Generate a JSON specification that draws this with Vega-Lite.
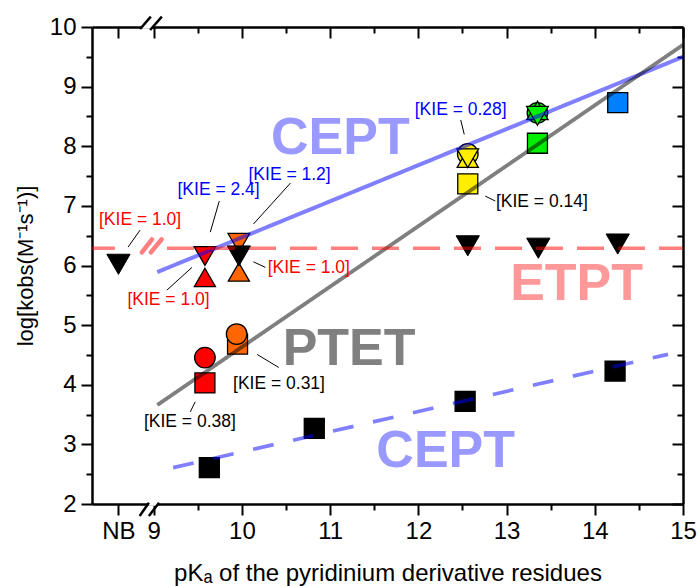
{
  "$schema": "https://vega.github.io/schema/vega-lite/v6.json",
  "width": 591,
  "height": 477,
  "autosize": "none",
  "padding": {"left": 92, "top": 27, "right": 14, "bottom": 82},
  "background": "white",
  "config": {
    "view": {"stroke": null},
    "font": "Arial, Liberation Sans, sans-serif",
    "axis": {
      "grid": false,
      "domainColor": "black",
      "domainWidth": 2.5,
      "tickColor": "black",
      "tickWidth": 2,
      "labelColor": "black",
      "labelFont": "Arial, Liberation Sans, sans-serif",
      "labelFontSize": 24,
      "titleFont": "Arial, Liberation Sans, sans-serif",
      "titleColor": "black",
      "titleFontSize": 24,
      "titleFontWeight": "normal",
      "labelOverlap": false,
      "labelFlush": false
    }
  },
  "datasets": {
    "points": [
      {"compound": "R0", "marker": "sq", "x": 9.63, "y": 2.61},
      {"compound": "R0", "marker": "sq", "x": 10.82, "y": 3.27},
      {"compound": "R0", "marker": "sq", "x": 12.53, "y": 3.72},
      {"compound": "R0", "marker": "sq", "x": 14.23, "y": 4.23},
      {"compound": "R1", "marker": "sq", "x": 9.58, "y": 4.03},
      {"compound": "R2", "marker": "sq", "x": 9.95, "y": 4.68},
      {"compound": "R3", "marker": "sq", "x": 12.56, "y": 7.37},
      {"compound": "R4", "marker": "sq", "x": 13.35, "y": 8.05},
      {"compound": "R5", "marker": "sq", "x": 14.26, "y": 8.73},
      {"compound": "R1", "marker": "ci", "x": 9.58, "y": 4.455},
      {"compound": "R2", "marker": "ci", "x": 9.94, "y": 4.85},
      {"compound": "R3", "marker": "ci", "x": 12.56, "y": 7.87},
      {"compound": "R4", "marker": "ci", "x": 13.35, "y": 8.56},
      {"compound": "R1", "marker": "up", "x": 9.58, "y": 5.80},
      {"compound": "R2", "marker": "up", "x": 9.965, "y": 5.89},
      {"compound": "R3", "marker": "up", "x": 12.56, "y": 7.80},
      {"compound": "R4", "marker": "up", "x": 13.35, "y": 8.60},
      {"compound": "R1", "marker": "dn", "x": 9.58, "y": 6.16},
      {"compound": "R2", "marker": "dn", "x": 9.965, "y": 6.38},
      {"compound": "R3", "marker": "dn", "x": 12.56, "y": 7.80},
      {"compound": "R4", "marker": "dn", "x": 13.35, "y": 8.51}
    ],
    "etpt": [
      {"x": 8.6, "y": 6.02},
      {"x": 9.965, "y": 6.16},
      {"x": 12.56, "y": 6.33},
      {"x": 13.36, "y": 6.29},
      {"x": 14.26, "y": 6.36}
    ],
    "fits": [
      {"fit": "CEPT", "seg": 1, "x": 9.04, "y": 5.89},
      {"fit": "CEPT", "seg": 1, "x": 15, "y": 9.50},
      {"fit": "PTET", "seg": 1, "x": 9.04, "y": 3.66},
      {"fit": "PTET", "seg": 1, "x": 15, "y": 9.70},
      {"fit": "CEPT ref", "seg": 1, "x": 9.22, "y": 2.61},
      {"fit": "CEPT ref", "seg": 1, "x": 14.83, "y": 4.51},
      {"fit": "ETPT", "seg": 1, "x": 8.3, "y": 6.29},
      {"fit": "ETPT", "seg": 1, "x": 8.56, "y": 6.29},
      {"fit": "ETPT", "seg": 2, "x": 9.15, "y": 6.29},
      {"fit": "ETPT", "seg": 2, "x": 15, "y": 6.29}
    ],
    "etptBreak": [
      {"x": 8.865, "y": 6.22, "x2": 8.98, "y2": 6.44},
      {"x": 8.967, "y": 6.22, "x2": 9.09, "y2": 6.44}
    ],
    "axisGap": [
      {"x": 8.94, "x2": 9.04, "y": 1.97, "y2": 2.03},
      {"x": 8.87, "x2": 8.98, "y": 9.97, "y2": 10.03}
    ],
    "axisBreak": [
      {"x": 8.84, "y": 1.80, "x2": 8.945, "y2": 2.02},
      {"x": 8.945, "y": 1.80, "x2": 9.06, "y2": 2.02},
      {"x": 8.845, "y": 9.966, "x2": 8.967, "y2": 10.173},
      {"x": 8.959, "y": 9.95, "x2": 9.092, "y2": 10.173}
    ],
    "leaders": [
      {"x": 8.845, "y": 6.594, "x2": 8.709, "y2": 6.309},
      {"x": 9.743, "y": 7.081, "x2": 9.641, "y2": 6.56},
      {"x": 10.55, "y": 7.383, "x2": 10.13, "y2": 6.695},
      {"x": 10.13, "y": 6.062, "x2": 10.266, "y2": 5.968},
      {"x": 9.149, "y": 5.587, "x2": 9.433, "y2": 5.968},
      {"x": 10.172, "y": 4.508, "x2": 10.417, "y2": 4.29},
      {"x": 9.47, "y": 3.713, "x2": 9.414, "y2": 3.545},
      {"x": 12.48, "y": 8.44, "x2": 12.52, "y2": 8.2},
      {"x": 12.758, "y": 7.164, "x2": 12.872, "y2": 7.081}
    ],
    "kie": [
      {"label": "[KIE = 1.0]", "mech": "ETPT", "x": 8.845, "y": 6.76},
      {"label": "[KIE = 2.4]", "mech": "CEPT", "x": 9.735, "y": 7.26},
      {"label": "[KIE = 1.2]", "mech": "CEPT", "x": 10.54, "y": 7.52},
      {"label": "[KIE = 1.0]", "mech": "ETPT", "x": 10.758, "y": 5.956},
      {"label": "[KIE = 1.0]", "mech": "ETPT", "x": 9.167, "y": 5.42},
      {"label": "[KIE = 0.31]", "mech": "PTET", "x": 10.42, "y": 4.01},
      {"label": "[KIE = 0.38]", "mech": "PTET", "x": 9.41, "y": 3.37},
      {"label": "[KIE = 0.28]", "mech": "CEPT", "x": 12.48, "y": 8.607},
      {"label": "[KIE = 0.14]", "mech": "PTET", "x": 13.4, "y": 7.07}
    ],
    "mechs": [
      {"label": "CEPT", "mech": "CEPT", "x": 11.116, "y": 7.875},
      {"label": "ETPT", "mech": "ETPT", "x": 13.794, "y": 5.419},
      {"label": "PTET", "mech": "PTET", "x": 11.215, "y": 4.329},
      {"label": "CEPT", "mech": "CEPT", "x": 12.31, "y": 2.617}
    ]
  },
  "layer": [
    {
      "data": {"name": "points"},
      "mark": {"type": "point", "filled": true, "opacity": 1, "stroke": "black", "strokeWidth": 1.3},
      "encoding": {
        "x": {
          "field": "x", "type": "quantitative",
          "scale": {"domain": [8.3, 15], "nice": false, "zero": false},
          "axis": {
            "orient": "bottom",
            "values": [8.6, 9, 9.5, 10, 10.5, 11, 11.5, 12, 12.5, 13, 13.5, 14, 14.5, 15],
            "labelExpr": "datum.value == 8.6 ? 'NB' : (datum.value % 1 == 0 ? format(datum.value, '.0f') : '')",
            "tickSize": {"condition": {"test": "datum.value % 1 == 0 || datum.value == 8.6", "value": 11}, "value": 6},
            "labelPadding": 4,
            "title": "pKₐ of the pyridinium derivative residues",
            "titlePadding": 18
          }
        },
        "y": {
          "field": "y", "type": "quantitative",
          "scale": {"domain": [2, 10], "nice": false, "zero": false},
          "axis": {
            "orient": "left",
            "values": [2, 2.5, 3, 3.5, 4, 4.5, 5, 5.5, 6, 6.5, 7, 7.5, 8, 8.5, 9, 9.5, 10],
            "labelExpr": "datum.value % 1 == 0 ? format(datum.value, '.0f') : ''",
            "tickSize": {"condition": {"test": "datum.value % 1 == 0", "value": 11}, "value": 6},
            "labelPadding": 5,
            "title": "log[kobs(M⁻¹s⁻¹)]",
            "titleFontSize": 22,
            "titlePadding": 12
          }
        },
        "shape": {"field": "marker", "type": "nominal", "scale": {"domain": ["sq", "ci", "up", "dn"], "range": ["square", "circle", "triangle-up", "triangle-down"]}, "legend": null},
        "size": {"field": "marker", "type": "ordinal", "scale": {"domain": ["sq", "ci", "up", "dn"], "range": [400, 470, 720, 720]}, "legend": null},
        "fill": {"field": "compound", "type": "nominal", "scale": {"domain": ["R0", "R1", "R2", "R3", "R4", "R5"], "range": ["#000000", "#ff0000", "#ff6600", "#ffee00", "#00ee00", "#0080ff"]}, "legend": null}
      }
    },
    {
      "data": {"name": "etpt"},
      "mark": {"type": "point", "filled": true, "opacity": 1, "shape": "triangle-down", "size": 540, "fill": "black", "stroke": "black", "strokeWidth": 1},
      "encoding": {
        "x": {
          "field": "x", "type": "quantitative",
          "scale": {"domain": [8.3, 15], "nice": false, "zero": false},
          "axis": {
            "orient": "top",
            "values": [8.6, 9, 9.5, 10, 10.5, 11, 11.5, 12, 12.5, 13, 13.5, 14, 14.5, 15],
            "labels": false,
            "tickSize": {"condition": {"test": "datum.value % 1 == 0 || datum.value == 8.6", "value": -11}, "value": -6},
            "title": null
          }
        },
        "y": {
          "field": "y", "type": "quantitative",
          "scale": {"domain": [2, 10], "nice": false, "zero": false},
          "axis": {
            "orient": "right",
            "values": [2, 2.5, 3, 3.5, 4, 4.5, 5, 5.5, 6, 6.5, 7, 7.5, 8, 8.5, 9, 9.5, 10],
            "labels": false,
            "tickSize": {"condition": {"test": "datum.value % 1 == 0", "value": -11}, "value": -6},
            "title": null
          }
        }
      }
    },
    {
      "data": {"name": "fits"},
      "mark": {"type": "line", "opacity": 0.5, "strokeCap": "butt"},
      "encoding": {
        "x": {"field": "x", "type": "quantitative", "scale": {"domain": [8.3, 15], "nice": false, "zero": false}, "axis": null},
        "y": {"field": "y", "type": "quantitative", "scale": {"domain": [2, 10], "nice": false, "zero": false}, "axis": null},
        "detail": {"field": "seg", "type": "nominal"},
        "color": {"field": "fit", "type": "nominal", "scale": {"domain": ["CEPT", "PTET", "CEPT ref", "ETPT"], "range": ["#0000ff", "#000000", "#0000ff", "#ff0000"]}, "legend": null},
        "strokeDash": {"field": "fit", "type": "nominal", "scale": {"domain": ["CEPT", "PTET", "CEPT ref", "ETPT"], "range": [[1, 0], [1, 0], [21, 20], [27, 14]]}, "legend": null},
        "strokeWidth": {"field": "fit", "type": "nominal", "scale": {"domain": ["CEPT", "PTET", "CEPT ref", "ETPT"], "range": [4, 3.5, 4, 5]}, "legend": null}
      }
    },
    {
      "data": {"name": "etptBreak"},
      "mark": {"type": "rule", "color": "#ff0000", "opacity": 0.5, "strokeWidth": 4.5, "strokeCap": "round"},
      "encoding": {
        "x": {"field": "x", "type": "quantitative", "scale": {"domain": [8.3, 15], "nice": false, "zero": false}, "axis": null},
        "y": {"field": "y", "type": "quantitative", "scale": {"domain": [2, 10], "nice": false, "zero": false}, "axis": null},
        "x2": {"field": "x2"},
        "y2": {"field": "y2"}
      }
    },
    {
      "data": {"name": "axisGap"},
      "mark": {"type": "rect", "color": "white", "opacity": 1},
      "encoding": {
        "x": {"field": "x", "type": "quantitative", "scale": {"domain": [8.3, 15], "nice": false, "zero": false}, "axis": null},
        "y": {"field": "y", "type": "quantitative", "scale": {"domain": [2, 10], "nice": false, "zero": false}, "axis": null},
        "x2": {"field": "x2"},
        "y2": {"field": "y2"}
      }
    },
    {
      "data": {"name": "axisBreak"},
      "mark": {"type": "rule", "color": "black", "strokeWidth": 2.5},
      "encoding": {
        "x": {"field": "x", "type": "quantitative", "scale": {"domain": [8.3, 15], "nice": false, "zero": false}, "axis": null},
        "y": {"field": "y", "type": "quantitative", "scale": {"domain": [2, 10], "nice": false, "zero": false}, "axis": null},
        "x2": {"field": "x2"},
        "y2": {"field": "y2"}
      }
    },
    {
      "data": {"name": "leaders"},
      "mark": {"type": "rule", "color": "black", "strokeWidth": 1},
      "encoding": {
        "x": {"field": "x", "type": "quantitative", "scale": {"domain": [8.3, 15], "nice": false, "zero": false}, "axis": null},
        "y": {"field": "y", "type": "quantitative", "scale": {"domain": [2, 10], "nice": false, "zero": false}, "axis": null},
        "x2": {"field": "x2"},
        "y2": {"field": "y2"}
      }
    },
    {
      "data": {"name": "kie"},
      "mark": {"type": "text", "fontSize": 17.5, "align": "center", "baseline": "middle", "font": "Arial, Liberation Sans, sans-serif"},
      "encoding": {
        "x": {"field": "x", "type": "quantitative", "scale": {"domain": [8.3, 15], "nice": false, "zero": false}, "axis": null},
        "y": {"field": "y", "type": "quantitative", "scale": {"domain": [2, 10], "nice": false, "zero": false}, "axis": null},
        "text": {"field": "label", "type": "nominal"},
        "color": {"field": "mech", "type": "nominal", "scale": {"domain": ["CEPT", "ETPT", "PTET"], "range": ["#0000ff", "#ff0000", "#000000"]}, "legend": null}
      }
    },
    {
      "data": {"name": "mechs"},
      "mark": {"type": "text", "fontSize": 52, "fontWeight": "bold", "align": "center", "baseline": "alphabetic", "font": "Arial, Liberation Sans, sans-serif"},
      "encoding": {
        "x": {"field": "x", "type": "quantitative", "scale": {"domain": [8.3, 15], "nice": false, "zero": false}, "axis": null},
        "y": {"field": "y", "type": "quantitative", "scale": {"domain": [2, 10], "nice": false, "zero": false}, "axis": null},
        "text": {"field": "label", "type": "nominal"},
        "color": {"field": "mech", "type": "nominal", "scale": {"domain": ["CEPT", "ETPT", "PTET"], "range": ["#9999ff", "#ff9999", "#808080"]}, "legend": null}
      }
    }
  ],
  "resolve": {
    "axis": {"x": "independent", "y": "independent"},
    "scale": {"color": "independent", "strokeDash": "independent", "strokeWidth": "independent"}
  }
}
